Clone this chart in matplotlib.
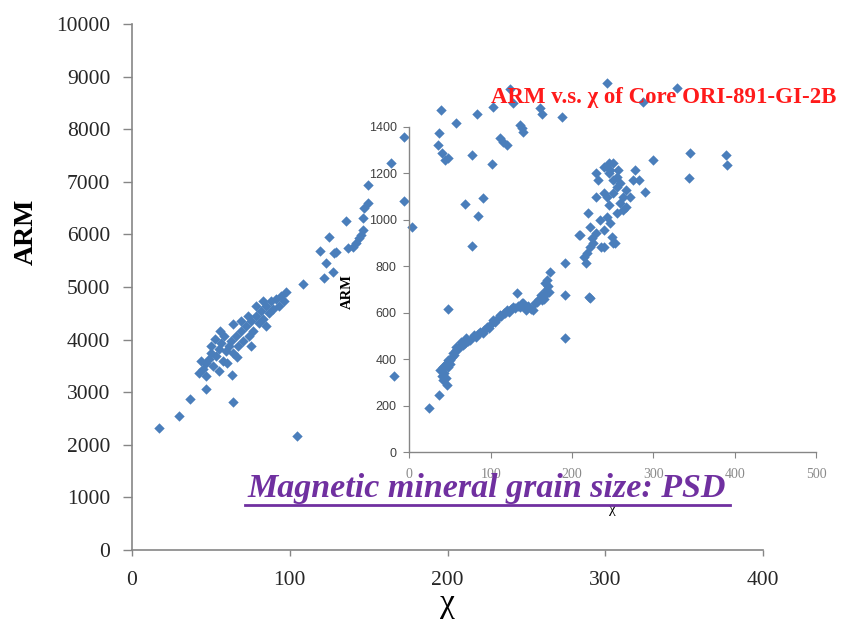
import matplotlib
matplotlib.use("Agg")
import matplotlib.pyplot as plt
from matplotlib.lines import Line2D

# ---------------- data: main panel (chi, ARM) ----------------
main_chi = [17.1, 29.7, 36.7, 46.8, 63.9, 63.3, 104.4, 63.9, 55.7, 97.5, 165.8,
            42.4, 44.9, 46.8, 48.7, 50.0, 51.3, 53.2, 55.1, 56.3, 57.6, 59.5, 61.4,
            62.7, 63.9, 65.8, 67.1, 69.0, 70.3, 72.2, 74.1, 75.3, 76.6, 78.5, 80.4,
            81.6, 82.9, 84.8, 86.7, 88.0, 89.2, 91.1, 93.0, 94.3, 96.2, 73.4, 78.5,
            82.9, 69.0, 50.0, 46.8, 55.1, 60.1, 66.5, 75.3, 84.8, 43.7, 52.5, 58.2,
            108.2, 121.5, 127.2, 122.8, 119.0, 127.8, 129.1, 124.7, 135.4, 146.2,
            136.7, 139.9, 141.8, 143.7, 144.9, 146.2, 146.8, 149.4, 149.4, 163.9,
            172.2, 177.8, 172.2, 195.6, 205.1, 194.3, 193.7, 196.8, 198.7, 200.0,
            215.8, 228.5, 219.0, 229.1, 241.8, 239.9, 233.5, 235.4, 238.0, 246.2,
            247.5, 248.1, 258.9, 260.1, 272.8, 301.3, 324.1, 345.6, 211.4, 222.2,
            219.6, 215.8]
main_arm = [2324, 2552, 2876, 3067, 2819, 3334, 2172, 4305, 4172, 4896, 3315,
            3372, 3448, 3562, 3638, 3753, 3505, 3696, 3829, 3943, 3600, 3791, 3886,
            3981, 3753, 4077, 3886, 4172, 3981, 4267, 4077, 4362, 4172, 4458, 4324,
            4553, 4400, 4648, 4515, 4743, 4591, 4781, 4648, 4820, 4743, 4458, 4648,
            4743, 4362, 3886, 3315, 3410, 3562, 3677, 3886, 4267, 3600, 4020, 4077,
            5048, 5163, 5277, 5448, 5677, 5639, 5658, 5944, 6248, 6306,
            5734, 5753, 5829, 5925, 5982, 6077, 6496, 6591, 6934, 7353,
            6629, 6134, 7849, 8363, 8115, 7925, 7696, 7544, 7410, 7449,
            7506, 7334, 8287, 8420, 8496, 8763, 7830, 7753, 7696, 8077,
            8020, 7944, 8401, 8287, 8230, 8877, 8515, 8782, 6572, 6686,
            6343, 5772]

# ---------------- data: inset (chi, ARM) of Core ORI-891-GI-2B ----------------
inset_chi = [24, 37, 46, 47, 38, 42, 46, 50, 54, 58, 64, 70, 79, 87, 95, 103, 111,
             120, 128, 136, 140, 144, 152, 157, 163, 169, 169, 167, 173, 132,
             191, 191, 191, 222, 210, 215, 217, 218,
             220, 222, 224, 226, 230, 234, 236, 239, 243, 245, 247, 249, 251, 255,
             259, 263, 267, 271, 255, 251, 247, 245, 239, 232, 230, 245, 255, 259,
             267, 275, 277, 283, 290, 230, 239, 222, 239, 253, 243, 251, 263, 257,
             251, 300, 345, 344, 389, 390, 221, 209,
             40, 43, 44, 47, 48, 52, 55, 57, 60, 62, 66, 68, 72, 75, 82, 85, 90,
             92, 98, 100, 105, 108, 113, 116, 118, 122, 125, 130, 134, 138, 142,
             146, 150, 155, 160, 165, 168, 170, 172, 165, 162, 40, 42, 45, 50]
inset_arm = [189, 246, 289, 615, 354, 368, 382, 397, 425, 454, 476, 490, 504, 519,
             540, 569, 590, 612, 626, 626, 640, 612, 612, 648, 655, 683, 741, 726,
             776, 683,
             815, 676, 490, 662, 934, 841, 812, 855,
             1027, 970, 920, 898, 941, 999, 884, 956, 1013, 1063, 984, 927, 898,
             1027, 1070, 1042, 1056, 1099, 1142, 1170, 1213, 1242, 1228, 1170, 1199,
             1199, 1185, 1156, 1127, 1170, 1213, 1170, 1120, 1099, 1113, 884, 884,
             898, 1099, 1113, 1099, 1213, 1242, 1256, 1285, 1178, 1278, 1235, 666,
             936,
             360, 340, 375, 365, 395, 410, 420, 440, 445, 455, 460, 470, 480, 485,
             495, 510, 515, 525, 535, 550, 560, 575, 585, 600, 598, 605, 615, 620,
             630, 640, 625, 630, 615, 640, 660, 680, 700, 715, 690, 660, 675, 330,
             310, 320, 380]

main_xticks = [0, 100, 200, 300, 400]
main_yticks = [0, 1000, 2000, 3000, 4000, 5000, 6000, 7000, 8000, 9000, 10000]
inset_xticks = [0, 100, 200, 300, 400, 500]
inset_yticks = [0, 200, 400, 600, 800, 1000, 1200, 1400]

inset_title = "ARM v.s. \u03c7 of Core ORI-891-GI-2B"
banner = "Magnetic mineral grain size: PSD"

# ---------------- figure ----------------
W, H = 841, 644
fig = plt.figure(figsize=(W / 100, H / 100), dpi=100)
fig.patch.set_facecolor("white")

blue = "#4a7ebb"
spine_c = "#868686"
serif = ["Liberation Serif", "DejaVu Serif"]
sans = ["Liberation Sans", "DejaVu Sans"]

# main axes
ax = fig.add_axes([132 / W, 1 - 550 / H, 631 / W, 526 / H])
ax.patch.set_alpha(0)
ax.scatter(main_chi, main_arm, marker="D", s=28, color=blue, linewidths=0, zorder=3)
ax.set_xlim(0, 400)
ax.set_ylim(0, 10000)
ax.set_xticks(main_xticks)
ax.set_yticks(main_yticks)
for s in ["top", "right"]:
    ax.spines[s].set_visible(False)
for s in ["left", "bottom"]:
    ax.spines[s].set_color(spine_c)
    ax.spines[s].set_linewidth(1.2)
ax.tick_params(axis="both", colors=spine_c, width=1, direction="out",
               labelcolor="#262626", labelsize=15.5)
ax.tick_params(axis="y", length=6.5, pad=9)
ax.tick_params(axis="x", length=4, pad=11)
for lab in ax.get_xticklabels() + ax.get_yticklabels():
    lab.set_fontfamily(serif)
ax.set_ylabel("ARM", fontsize=20, fontweight="bold", fontfamily=serif)
ax.yaxis.set_label_coords(-0.147, 0.604)
ax.set_xlabel("\u03c7", fontsize=24, fontfamily=serif)
ax.xaxis.set_label_coords(0.50, -0.073)

# inset axes (transparent)
ax2 = fig.add_axes([409.3 / W, 1 - 452.3 / H, (816 - 409.3) / W, (452.3 - 126.7) / H])
ax2.patch.set_alpha(0)
ax2.scatter(inset_chi, inset_arm, marker="D", s=28, color=blue, linewidths=0, zorder=3,
            clip_on=False)
ax2.set_xlim(0, 500)
ax2.set_ylim(0, 1400)
ax2.set_xticks(inset_xticks)
ax2.set_yticks(inset_yticks)
for s in ["top", "right"]:
    ax2.spines[s].set_visible(False)
for s in ["left", "bottom"]:
    ax2.spines[s].set_color(spine_c)
    ax2.spines[s].set_linewidth(1.0)
ax2.tick_params(axis="both", colors=spine_c, length=4, width=0.8, direction="out")
ax2.tick_params(axis="y", labelsize=9, labelcolor="#404040", pad=5)
ax2.tick_params(axis="x", labelsize=10, labelcolor="#8a8a8a", pad=7)
for lab in ax2.get_yticklabels():
    lab.set_fontfamily(sans)
for lab in ax2.get_xticklabels():
    lab.set_fontfamily(serif)
ax2.set_ylabel("ARM", fontsize=10.5, fontweight="bold", fontfamily=serif)
ax2.yaxis.set_label_coords(-0.136, 0.495)
ax2.set_xlabel("\u03c7", fontsize=11, fontfamily=serif)
ax2.xaxis.set_label_coords(0.50, -0.155)

# inset title
fig.text(836 / W, 1 - 97 / H, inset_title, ha="right", va="center", color="#ff1a1a",
         fontsize=16.5, fontweight="bold", fontfamily=serif, zorder=5)

# banner text with underline
fig.text(487 / W, 1 - 489 / H, banner, ha="center", va="center", color="#7030a0",
         fontsize=24.5, fontweight="bold", fontstyle="italic", fontfamily=serif, zorder=5)
fig.add_artist(Line2D([245 / W, 730 / W], [1 - 505 / H, 1 - 505 / H],
                      transform=fig.transFigure, color="#7030a0", linewidth=2))

fig.savefig("out.png", dpi=100)
